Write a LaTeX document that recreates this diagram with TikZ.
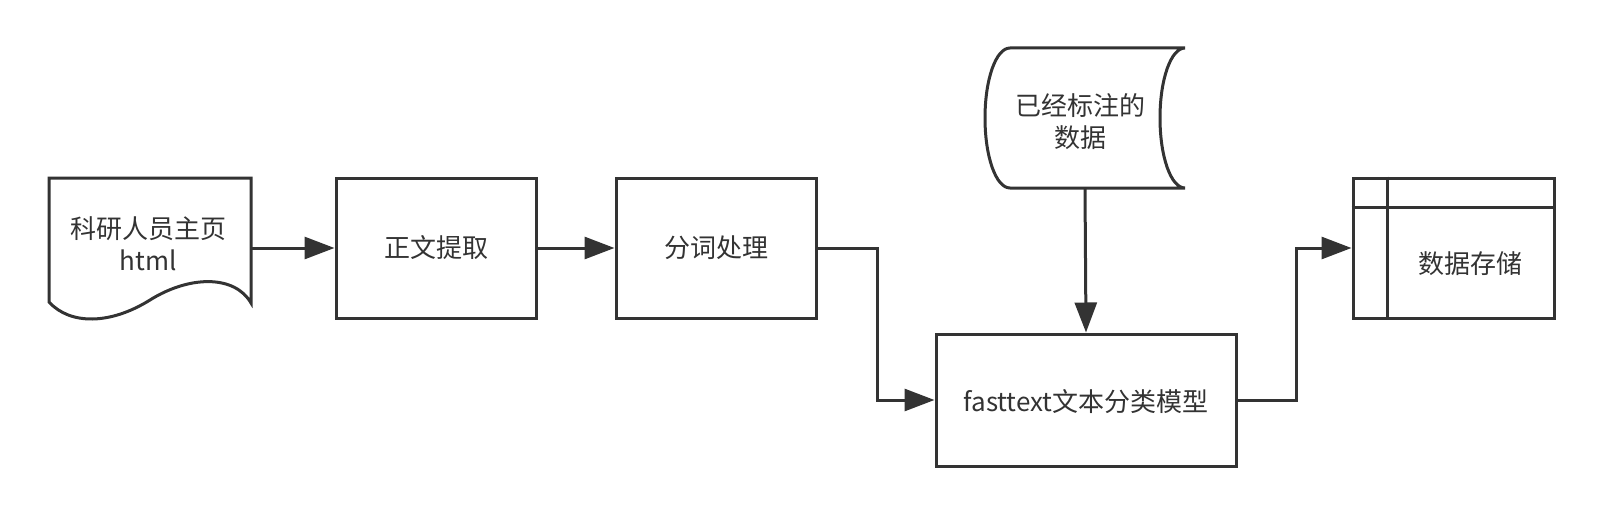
\documentclass[tikz,border=0pt]{standalone}
\usepackage{fontspec}
\setmainfont{Noto Sans CJK SC}
\usetikzlibrary{arrows.meta}
\definecolor{ink}{HTML}{333333}
\tikzset{
  lbl/.style={text=ink, font=\fontsize{26}{32}\selectfont, align=center, inner sep=0pt},
  procbox/.style={draw=ink, line width=3pt, rectangle, inner sep=0pt},
  ghost/.style={rectangle, inner sep=0pt},
  link/.style={draw=ink, line width=3pt, -{Triangle[length=30pt,width=22pt]}},
  outline/.style={draw=ink, line width=3pt, line join=miter},
}
\begin{document}
\begin{tikzpicture}[x=1pt,y=-1pt]
\useasboundingbox (0,0) rectangle (1603,516);
% document shape
\draw[outline] (49,178) -- (251,178) -- (251,303)
  .. controls (235,275) and (190,275) .. (150,300)
  .. controls (110,325) and (70,325) .. (49,302) -- cycle;
\node[ghost, minimum width=202pt, minimum height=140pt] (doc) at (150,248) {};
\node[lbl] (doctext) at (148,244) {科研人员主页\\html};
% boxes
\node[procbox, minimum width=200pt, minimum height=140pt] (b1) at (436,248) {};
\node[lbl] at (b1.center) {正文提取};
\node[procbox, minimum width=200pt, minimum height=140pt] (b2) at (716,248) {};
\node[lbl] at (b2.center) {分词处理};
\node[procbox, minimum width=300pt, minimum height=132pt] (ft) at (1086,400) {};
\node[lbl] at ([yshift=-2pt]ft.center) {fasttext文本分类模型};
% stored data (tape)
\draw[outline] (1010,48) -- (1185,48)
  .. controls (1171,48) and (1160,79) .. (1160,118)
  .. controls (1160,157) and (1171,188) .. (1185,188)
  -- (1010,188)
  .. controls (996,188) and (985,157) .. (985,118)
  .. controls (985,79) and (996,48) .. (1010,48) -- cycle;
\node[ghost, minimum width=200pt, minimum height=140pt] (tape) at (1085,118) {};
\node[lbl] at (1080,122) {已经标注的\\数据};
% internal storage
\node[procbox, minimum width=201pt, minimum height=140pt] (st) at (1453.5,248) {};
\draw[outline] (st.north west |- 0,207) -- (st.north east |- 0,207);
\draw[outline] (1387,0 |- st.north) -- (1387,0 |- st.south);
\node[lbl] at (1470,264) {数据存储};
% connectors
\draw[link] (doc.east) -- (b1.west);
\draw[link] (b1.east) -- (b2.west);
\draw[link] (b2.east) -- ++(60,0) |- (ft.west);
\draw[link] (tape.south) -- (ft.north);
\draw[link] (ft.east) -- ++(59,0) |- (st.west);
\end{tikzpicture}
\end{document}
